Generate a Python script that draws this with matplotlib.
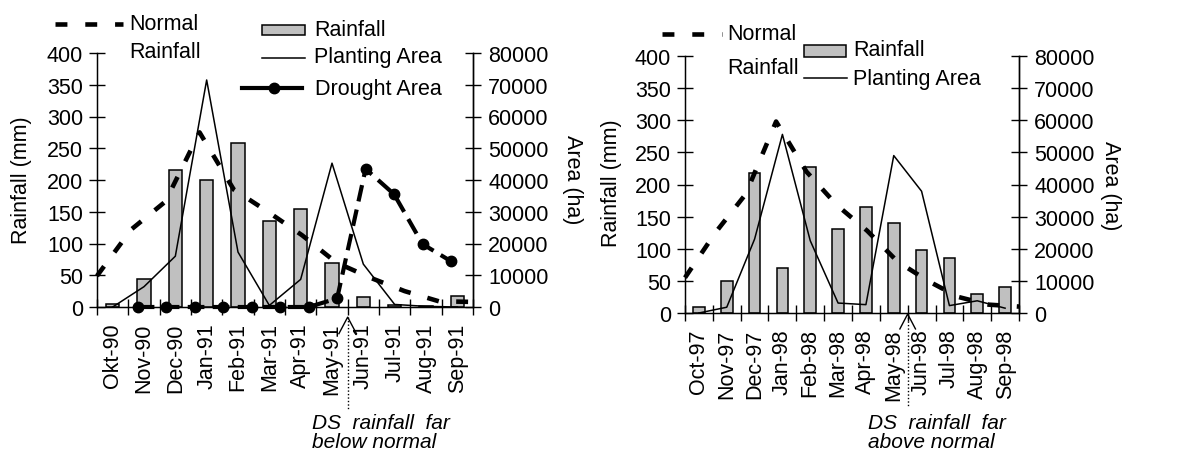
"""
Rainfall, normal rainfall, planting area and drought area by month,
1990/91 (left) and 1997/98 (right) seasons.
"""

import numpy as np
import matplotlib
matplotlib.use("Agg")
import matplotlib.pyplot as plt
from matplotlib.lines import Line2D
from matplotlib.patches import Rectangle
from matplotlib.transforms import blended_transform_factory

plt.rcParams["font.family"] = ["Liberation Sans", "DejaVu Sans"]
plt.rcParams["font.size"] = 15.5

# ── data ──────────────────────────────────────────────────────────────────────
months_9091 = ["Okt-90", "Nov-90", "Dec-90", "Jan-91", "Feb-91", "Mar-91",
               "Apr-91", "May-91", "Jun-91", "Jul-91", "Aug-91", "Sep-91"]
rain_9091 = [5, 44, 215, 200, 258, 135, 155, 70, 16, 3, 1, 17]
normal_9091 = [49, 122, 166, 275, 185, 150, 113, 70, 46, 25, 9, 8]
planting_9091 = [0, 6400, 16000, 71500, 17300, 500, 8700, 45300, 13500, 800, 200, 0]
drought_9091 = [0, 0, 0, 0, 0, 0, 0, 2700, 43500, 35500, 19800, 14400]

months_9798 = ["Oct-97", "Nov-97", "Dec-97", "Jan-98", "Feb-98", "Mar-98",
               "Apr-98", "May-98", "Jun-98", "Jul-98", "Aug-98", "Sep-98"]
rain_9798 = [10, 50, 218, 70, 228, 130, 165, 140, 98, 85, 30, 40]
normal_9798 = [55, 125, 185, 298, 220, 168, 128, 80, 50, 25, 13, 10]
planting_9798 = [0, 1800, 23000, 55600, 22500, 3100, 2600, 49000, 37900, 2300, 3800, 1500]

W, H = 1191, 456
BAR_FILL = "#c0c0c0"


def fx(px):
    return px / W


def fy(py):
    return 1 - py / H


def draw_panel(fig, rect, months, rain, normal, planting, drought=None):
    ax = fig.add_axes(rect)
    n = len(months)
    x = np.arange(n)

    ax.bar(x, rain, width=0.42, color=BAR_FILL, edgecolor="black",
           linewidth=1.1, zorder=2)
    # normal rainfall sits on the tick marks (spans axis to axis)
    xn = np.linspace(-0.5, n - 0.5, len(normal))
    ax.plot(xn, normal, color="black", linewidth=3.3, dashes=(2.6, 3.8),
            dash_capstyle="butt", zorder=3, clip_on=False)

    ax.set_xlim(-0.5, n - 0.5)
    ax.set_ylim(0, 400)
    ax.set_yticks(np.arange(0, 401, 50))
    ax.set_xticks(x)
    ax.set_xticklabels(months, rotation=90)
    ax.set_xticks(np.arange(-0.5, n, 1), minor=True)
    ax.tick_params(axis="x", which="major", length=0, pad=11)
    ax.tick_params(axis="x", which="minor", direction="inout", length=12,
                   width=1)
    ax.tick_params(axis="y", direction="inout", length=12, width=1, pad=4)
    ax.spines["top"].set_visible(False)
    for s in ("left", "right", "bottom"):
        ax.spines[s].set_linewidth(1)
    ax.patch.set_visible(False)

    ax2 = ax.twinx()
    ax2.set_ylim(0, 80000)
    ax2.set_yticks(np.arange(0, 80001, 10000))
    ax2.tick_params(axis="y", direction="inout", length=12, width=1, pad=5)
    ax2.spines["top"].set_visible(False)
    ax2.spines["right"].set_linewidth(1)
    ax2.plot(x, planting, color="black", linewidth=1.1, zorder=4)
    if drought is not None:
        xd = np.linspace(0.8, 10.8, len(drought))
        ax2.plot(xd, drought, color="black", linewidth=3, dashes=(4, 2),
                 dash_capstyle="butt", marker="o", markersize=7.5,
                 zorder=5, clip_on=False)
    return ax, ax2


def caret(ax, xpos, y_apex, y_leg, y_end):
    tr = blended_transform_factory(ax.transData, ax.transAxes)
    ax.plot([xpos - 0.28, xpos, xpos + 0.28], [y_leg, y_apex, y_leg],
            color="black", linewidth=1, transform=tr, clip_on=False)
    ax.plot([xpos, xpos], [y_apex, y_end], color="black", linewidth=1,
            linestyle=(0, (1, 1.5)), transform=tr, clip_on=False)


def legend_line(fig, x0, x1, y, **kw):
    fig.add_artist(Line2D([fx(x0), fx(x1)], [fy(y), fy(y)], **kw))


def legend_patch(fig, x0, x1, y0, y1):
    fig.add_artist(Rectangle((fx(x0), fy(y1)), fx(x1) - fx(x0),
                             fy(y0) - fy(y1), facecolor=BAR_FILL,
                             edgecolor="black", linewidth=1.1))


fig = plt.figure(figsize=(W / 100, H / 100), dpi=100)

# ── left panel ────────────────────────────────────────────────────────────────
axL, axL2 = draw_panel(
    fig, [fx(97), fy(308), fx(473) - fx(97), fy(54) - fy(308)],
    months_9091, rain_9091, normal_9091, planting_9091, drought_9091)
caret(axL, 7.5, -0.04, -0.105, -0.40)
fig.text(fx(312), fy(424), "DS  rainfall  far", style="italic",
         ha="left", va="center", fontsize=15)
fig.text(fx(312), fy(443), "below normal", style="italic",
         ha="left", va="center", fontsize=15)
fig.text(fx(22), fy(180), "Rainfall (mm)", rotation=90, ha="center", va="center")
fig.text(fx(572), fy(180), "Area (ha)", rotation=270, ha="center", va="center")

legend_line(fig, 55, 123, 25, color="black", linewidth=3.3, dashes=(2.6, 3.9),
            dash_capstyle="butt")
fig.text(fx(129), fy(25), "Normal", ha="left", va="center")
fig.text(fx(129), fy(52), "Rainfall", ha="left", va="center")
legend_patch(fig, 262, 305, 26, 36)
fig.text(fx(314), fy(30), "Rainfall", ha="left", va="center")
legend_line(fig, 262, 305, 59, color="black", linewidth=1.1)
fig.text(fx(314), fy(58), "Planting Area", ha="left", va="center")
legend_line(fig, 242, 302, 89, color="black", linewidth=3)
fig.add_artist(Line2D([fx(274)], [fy(89)], color="black", marker="o",
                      markersize=7.5, linestyle="none"))
fig.text(fx(315), fy(89), "Drought Area", ha="left", va="center")

# ── right panel ───────────────────────────────────────────────────────────────
axR, axR2 = draw_panel(
    fig, [fx(685), fy(314), fx(1019) - fx(685), fy(57) - fy(314)],
    months_9798, rain_9798, normal_9798, planting_9798)
caret(axR, 7.5, -0.004, -0.062, -0.366)
fig.text(fx(868), fy(424), "DS  rainfall  far", style="italic",
         ha="left", va="center", fontsize=15)
fig.text(fx(868), fy(443), "above normal", style="italic",
         ha="left", va="center", fontsize=15)
fig.text(fx(611), fy(183), "Rainfall (mm)", rotation=90, ha="center", va="center")
fig.text(fx(1110), fy(186), "Area (ha)", rotation=270, ha="center", va="center")

legend_line(fig, 662, 722, 35, color="black", linewidth=3.3, dashes=(2.6, 3.9),
            dash_capstyle="butt")
fig.text(fx(727), fy(35), "Normal", ha="left", va="center")
fig.text(fx(727), fy(68), "Rainfall", ha="left", va="center")
legend_patch(fig, 804, 846, 46, 58)
fig.text(fx(853), fy(50), "Rainfall", ha="left", va="center")
legend_line(fig, 804, 847, 79, color="black", linewidth=1.1)
fig.text(fx(853), fy(79), "Planting Area", ha="left", va="center")

fig.savefig("out.png", dpi=100)
